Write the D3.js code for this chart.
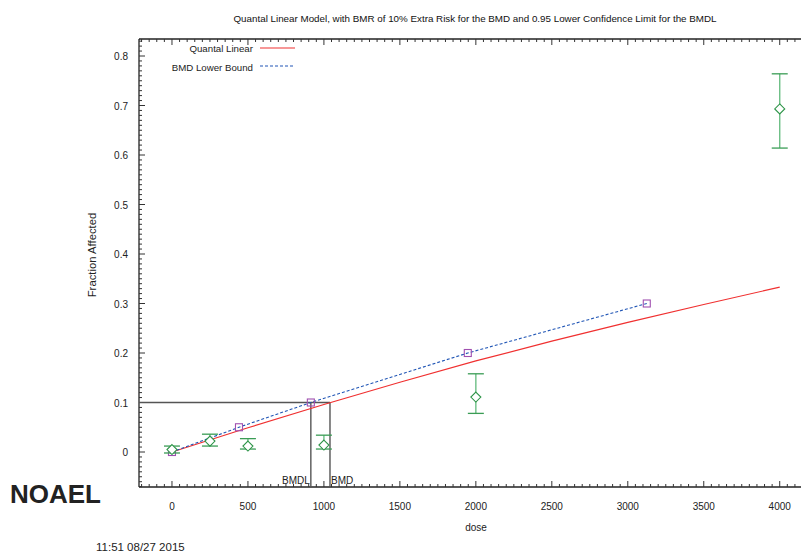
<!DOCTYPE html>
<html><head><meta charset="utf-8">
<script src="https://cdn.jsdelivr.net/npm/d3@7"></script>
<style>body{margin:0;background:#fff}svg{display:block}text{font-family:"Liberation Sans",Arial,sans-serif}</style>
</head><body>
<script>
// Observed data (diamonds with error bars)
const obsDose = [0, 250, 500, 1000, 2000, 4000];
const obsMean = [0.005, 0.022, 0.012, 0.014, 0.111, 0.693];
const obsLow  = [-0.002, 0.012, 0.006, 0.006, 0.078, 0.614];
const obsHigh = [0.012, 0.036, 0.027, 0.034, 0.158, 0.764];
// Quantal linear fit (red)
const fitDose = [0, 500, 1000, 1500, 2000, 2500, 3000, 3500, 4000];
const fitFrac = [0, 0.049, 0.096, 0.141, 0.184, 0.224, 0.262, 0.298, 0.333];
// BMD lower bound (blue dashed, squares)
const lbDose = [0, 441, 914, 1947, 3125];
const lbFrac = [0, 0.05, 0.1, 0.2, 0.3];
// BMD / BMDL
const bmr = 0.1, bmd = 1040, bmdl = 914;
const xTicks = [0, 500, 1000, 1500, 2000, 2500, 3000, 3500, 4000];
const yTicks = [0, 0.1, 0.2, 0.3, 0.4, 0.5, 0.6, 0.7, 0.8];

const W = 801, H = 552;
const svg = d3.select("body").append("svg").attr("width", W).attr("height", H);
const L = 139, T = 39, B = 487, R = 801;
const x = d3.scaleLinear().domain([-217, 4140]).range([L, R]);
const y = d3.scaleLinear().domain([-0.0707, 0.8]).range([B, 56]);

// title
svg.append("text").attr("x", 475).attr("y", 22).attr("text-anchor", "middle")
  .attr("font-size", 9.8).attr("fill", "#111")
  .text("Quantal Linear Model, with BMR of 10% Extra Risk for the BMD and 0.95 Lower Confidence Limit for the BMDL");

// axes frame
const ax = svg.append("g").attr("stroke", "#222").attr("stroke-width", 1.3).attr("fill", "none");
ax.append("line").attr("x1", L).attr("x2", L).attr("y1", T).attr("y2", B);
ax.append("line").attr("x1", L).attr("x2", R).attr("y1", B).attr("y2", B);
ax.append("line").attr("x1", L).attr("x2", R).attr("y1", T).attr("y2", T);

// x ticks (bottom & top, inward)
const xMinor = d3.range(-200, 4150, 50).filter(v => v % 500 !== 0);
const tg = svg.append("g").attr("stroke", "#333").attr("stroke-width", 1);
xMinor.forEach(v => {
  tg.append("line").attr("x1", x(v)).attr("x2", x(v)).attr("y1", B).attr("y2", B - 3);
  tg.append("line").attr("x1", x(v)).attr("x2", x(v)).attr("y1", T).attr("y2", T + 3);
});
xTicks.forEach(v => {
  tg.append("line").attr("x1", x(v)).attr("x2", x(v)).attr("y1", B).attr("y2", B - 6);
  tg.append("line").attr("x1", x(v)).attr("x2", x(v)).attr("y1", T).attr("y2", T + 6);
});
svg.append("g").selectAll("text").data(xTicks).join("text")
  .attr("x", d => x(d)).attr("y", 510).attr("text-anchor", "middle")
  .attr("font-size", 10).attr("fill", "#222").text(d => d);

// y ticks (left, inward)
const yMinor = d3.range(-7, 84).map(i => i / 100).filter(v => Math.round(v * 100) % 10 !== 0 && y(v) > T + 1);
yMinor.forEach(v => tg.append("line").attr("x1", L).attr("x2", L + 3).attr("y1", y(v)).attr("y2", y(v)));
yTicks.forEach(v => tg.append("line").attr("x1", L).attr("x2", L + 6).attr("y1", y(v)).attr("y2", y(v)));
svg.append("g").selectAll("text").data(yTicks).join("text")
  .attr("x", 128).attr("y", d => y(d) + 4).attr("text-anchor", "end")
  .attr("font-size", 10).attr("fill", "#222").text(d => d);

// axis labels
svg.append("text").attr("transform", "translate(96,255) rotate(-90)").attr("text-anchor", "middle")
  .attr("font-size", 11.3).attr("fill", "#222").text("Fraction Affected");
svg.append("text").attr("x", 476).attr("y", 531).attr("text-anchor", "middle")
  .attr("font-size", 10).attr("fill", "#222").text("dose");

// BMD lines
const bg = svg.append("g").attr("stroke", "#555").attr("stroke-width", 1.4).attr("fill", "none");
bg.append("line").attr("x1", L).attr("x2", x(bmd)).attr("y1", y(bmr)).attr("y2", y(bmr));
bg.append("line").attr("x1", x(bmdl)).attr("x2", x(bmdl)).attr("y1", y(bmr)).attr("y2", B);
bg.append("line").attr("x1", x(bmd)).attr("x2", x(bmd)).attr("y1", y(bmr)).attr("y2", B);
svg.append("text").attr("x", x(bmdl) - 1).attr("y", 484).attr("text-anchor", "end")
  .attr("font-size", 10).attr("fill", "#222").text("BMDL");
svg.append("text").attr("x", x(bmd) + 1).attr("y", 484)
  .attr("font-size", 10).attr("fill", "#222").text("BMD");

// fit line
const line = d3.line().x(d => x(d[0])).y(d => y(d[1]));
svg.append("path").attr("d", line(fitDose.map((d, i) => [d, fitFrac[i]])))
  .attr("fill", "none").attr("stroke", "#f03030").attr("stroke-width", 1.2);
// lower bound line
svg.append("path").attr("d", line(lbDose.map((d, i) => [d, lbFrac[i]])))
  .attr("fill", "none").attr("stroke", "#2055b5").attr("stroke-width", 1.1).attr("stroke-dasharray", "3,2");
svg.append("g").selectAll("rect").data(lbDose.map((d, i) => [d, lbFrac[i]])).join("rect")
  .attr("x", d => x(d[0]) - 3.5).attr("y", d => y(d[1]) - 3.5).attr("width", 7).attr("height", 7)
  .attr("fill", "none").attr("stroke", "#a050b0").attr("stroke-width", 1.1);

// error bars and diamonds
const eg = svg.append("g");
obsDose.forEach((d, i) => {
  const cx = x(d);
  eg.append("line").attr("x1", cx).attr("x2", cx).attr("y1", y(obsLow[i])).attr("y2", y(obsHigh[i]))
    .attr("stroke", "#6cbf85").attr("stroke-width", 1.4);
  [obsLow[i], obsHigh[i]].forEach(v => eg.append("line").attr("x1", cx - 8).attr("x2", cx + 8)
    .attr("y1", y(v)).attr("y2", y(v)).attr("stroke", "#3a9c55").attr("stroke-width", 1.3));
  const cy = y(obsMean[i]);
  eg.append("path").attr("d", `M${cx},${cy - 5}L${cx + 5},${cy}L${cx},${cy + 5}L${cx - 5},${cy}Z`)
    .attr("fill", "#fff").attr("stroke", "#2e9448").attr("stroke-width", 1.1);
});

// legend
svg.append("text").attr("x", 253).attr("y", 52).attr("text-anchor", "end")
  .attr("font-size", 9.7).attr("fill", "#222").text("Quantal Linear");
svg.append("line").attr("x1", 260).attr("x2", 295).attr("y1", 48).attr("y2", 48)
  .attr("stroke", "#f03030").attr("stroke-width", 1.2);
svg.append("text").attr("x", 253).attr("y", 71).attr("text-anchor", "end")
  .attr("font-size", 9.7).attr("fill", "#222").text("BMD Lower Bound");
svg.append("line").attr("x1", 260).attr("x2", 295).attr("y1", 66).attr("y2", 66)
  .attr("stroke", "#2055b5").attr("stroke-width", 1.1).attr("stroke-dasharray", "3,2");

// NOAEL and timestamp
svg.append("text").attr("x", 10).attr("y", 503).attr("font-family", "'Open Sans',sans-serif")
  .attr("font-weight", "bold").attr("font-size", 26).attr("fill", "#222").text("NOAEL");
svg.append("text").attr("x", 96).attr("y", 551).attr("font-size", 11.5).attr("fill", "#222").text("11:51 08/27 2015");
</script>
</body></html>
